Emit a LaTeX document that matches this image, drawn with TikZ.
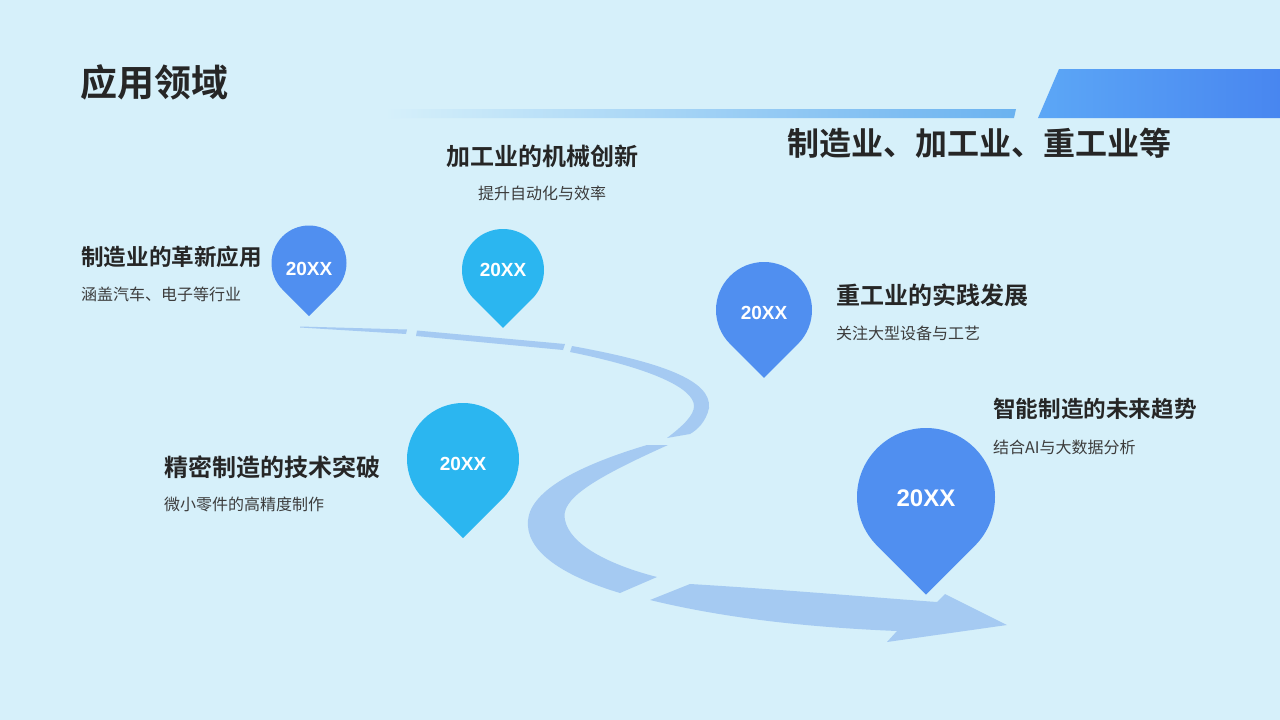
\documentclass[tikz,border=0pt]{standalone}
\usepackage{fontspec}
\setmainfont{Noto Sans CJK SC}[BoldFont={Noto Sans CJK SC Bold}]
\newfontfamily\numfont{Liberation Sans}
\usetikzlibrary{positioning,calc}
\definecolor{PageBlue}{RGB}{214,240,250}
\definecolor{RoadBlue}{RGB}{165,202,242}
\definecolor{PinBlue}{RGB}{80,143,240}
\definecolor{PinCyan}{RGB}{43,182,240}
\definecolor{BarBlue}{RGB}{92,167,246}
\definecolor{BarDeep}{RGB}{72,134,240}
\definecolor{BarLight}{RGB}{106,178,240}
\definecolor{TextDark}{RGB}{38,38,38}
\definecolor{TextGray}{RGB}{60,60,60}

% pin: [label style], name, x, y, radius, colour, label shift
\newcommand\pinmark[7][]{%
  \fill[#6] (#3,#4) ++(135:#5) arc[start angle=135,end angle=405,radius=#5]
    -- (#3,#4+1.4142*#5) -- cycle;
  \node[pinlabel,#1] (#2) at (#3,#4+#7) {20XX};}

\begin{document}
\begin{tikzpicture}[x=1pt,y=-1pt,
    road/.style={fill=RoadBlue},
    pinlabel/.style={text=white,font=\numfont\bfseries\fontsize{19}{20}\selectfont,inner sep=0},
    biglabel/.style={font=\numfont\bfseries\fontsize{24}{26}\selectfont},
    headline/.style={text=TextDark,font=\bfseries\fontsize{24}{26}\selectfont,inner sep=0},
    subline/.style={text=TextGray,font=\fontsize{16}{18}\selectfont,inner sep=0}]
  \fill[PageBlue] (0,0) rectangle (1280,720);
  \useasboundingbox (0,0) rectangle (1280,720);

  % header bars
  \shade[left color=PageBlue,right color=BarLight]
    (385,109) -- (1016,109) -- (1014,118) -- (385,118) -- cycle;
  \shade[left color=BarBlue,right color=BarDeep]
    (1059,69) -- (1280,69) -- (1280,118) -- (1038,118) -- cycle;
  \node[headline,font=\bfseries\fontsize{37}{40}\selectfont,anchor=west] (title) at (80,82) {应用领域};
  \node[headline,font=\bfseries\fontsize{32}{34}\selectfont,anchor=west] (scope) at (787,143) {制造业、加工业、重工业等};

  % road
  \fill[road] (300,326.5) -- (407,329.5) -- (406,334) -- (300,327.5) -- cycle;
  \fill[road] (417,330.5) -- (565,344) -- (563,350) -- (416,336) -- cycle;
  \fill[road] (572,346) .. controls (660,362) and (712,380) .. (709,408)
    .. controls (706,422) and (697,430) .. (690,434) -- (667,438)
    .. controls (684,425) and (694,415) .. (694,406)
    .. controls (694,388) and (650,368) .. (570,352) -- cycle;
  \fill[road] (647,445) -- (668,445) .. controls (590,480) and (560,500) .. (565,520)
    .. controls (570,545) and (610,565) .. (657,577) -- (620,593)
    .. controls (560,575) and (525,550) .. (528,520)
    .. controls (531,490) and (580,465) .. (647,445) -- cycle;
  \fill[road] (650,600) -- (690,584) .. controls (790,590) and (880,598) .. (937,602)
    -- (945,594) -- (1007,625) -- (887,642) -- (897,631)
    .. controls (800,627) and (720,617) .. (650,600) -- cycle;

  % pins
  \pinmark{p1}{309}{263}{37.5}{PinBlue}{6}
  \pinmark{p2}{503}{270}{41}{PinCyan}{0}
  \pinmark{p3}{764}{310}{48}{PinBlue}{3}
  \pinmark{p4}{463}{459}{56}{PinCyan}{5}
  \pinmark[biglabel]{p5}{926}{497}{69}{PinBlue}{1}

  % captions
  \node[headline] (h2) at (542,156) {加工业的机械创新};
  \node[subline] (s2) at ($(h2)+(0,37)$) {提升自动化与效率};
  \node[headline,font=\bfseries\fontsize{22.6}{24}\selectfont,anchor=west] (h1) at (81,257) {制造业的革新应用};
  \node[subline,anchor=west] (s1) at ($(h1.west)+(0,37)$) {涵盖汽车、电子等行业};
  \node[headline,anchor=west] (h3) at (836,295) {重工业的实践发展};
  \node[subline,anchor=west] (s3) at ($(h3.west)+(0,38)$) {关注大型设备与工艺};
  \node[headline,font=\bfseries\fontsize{22.6}{24}\selectfont,anchor=west] (h5) at (993,409) {智能制造的未来趋势};
  \node[subline,anchor=west] (s5) at ($(h5.west)+(0,38)$) {结合AI与大数据分析};
  \node[headline,anchor=west] (h4) at (164,467) {精密制造的技术突破};
  \node[subline,anchor=west] (s4) at ($(h4.west)+(0,37)$) {微小零件的高精度制作};
\end{tikzpicture}
\end{document}
